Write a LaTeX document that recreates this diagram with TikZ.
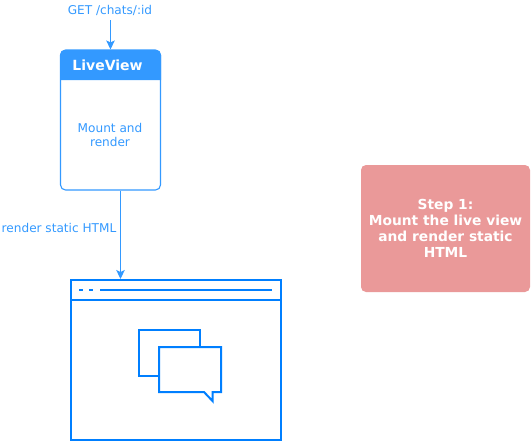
\documentclass[tikz,border=0pt]{standalone}
\usepackage{fontspec}
\setmainfont{DejaVu Sans}
\usetikzlibrary{arrows.meta}
\definecolor{lvblue}{HTML}{3399FF}
\definecolor{brblue}{HTML}{007FFF}
\definecolor{stepred}{HTML}{EA9999}
\tikzset{
  x=1pt,y=-1pt,
  lbl/.style={text=lvblue,font=\fontsize{12.1}{14.4}\selectfont,align=center,inner sep=0pt},
  panel/.style={draw=lvblue,line width=1.1pt,rounded corners=5pt,fill=white,minimum width=100pt,minimum height=140pt,inner sep=0pt},
  flow/.style={draw=lvblue,line width=1.1pt,-{Stealth[length=9pt,width=8.5pt,inset=2pt]}},
  wire/.style={draw=brblue,line width=2pt},
  stepbox/.style={fill=stepred,rounded corners=5pt,minimum width=169pt,minimum height=127pt,text=white,font=\fontsize{13.8}{16}\selectfont\bfseries,align=center,inner sep=0pt}
}
\begin{document}
\begin{tikzpicture}
\useasboundingbox (0,0) rectangle (531,442);
% LiveView panel
\node[panel] (live) at (110.5,120) {};
\fill[lvblue,rounded corners=5pt] (60,80) -- (60,50) -- (161,50) -- (161,72) [sharp corners] -- (161,80) -- cycle;
\fill[lvblue] (60,72) rectangle (161,80);
\node[font=\fontsize{14}{16}\selectfont\bfseries,text=white,inner sep=0pt] (title) at (107.5,65) {LiveView};
\node[lbl] (mount) at (110,135) {Mount and\\render};
% Labels and connectors
\node[lbl] (get) at (110,10.5) {GET /chats/:id};
\coordinate (gets) at (110.5,20);
\node[lbl] (static) at (59,227.5) {render static HTML};
% Browser window
\node[wire,minimum width=210pt,minimum height=160pt,inner sep=0pt] (browser) at (175.5,360) {};
\draw[wire] (70.5,300) -- (280.5,300);
\draw[wire] (79,290) -- (83,290) (89,290) -- (93,290) (100,290) -- (272,290);
% Chat bubbles
\draw[wire] (159,376) -- (138.5,376) -- (138.5,330) -- (200,330) -- (200,347);
\draw[wire,line join=miter] (159,347) -- (221,347) -- (221,392) -- (212.5,392) -- (212.5,401) -- (204,392) -- (159,392) -- cycle;
% Step note
\node[stepbox] (note) at (445.5,228.5) {Step 1:\\Mount the live view\\and render static\\HTML};
% Connectors
\draw[flow] (gets) -- (live.north);
\draw[flow] ([xshift=10pt]live.south) -- ([xshift=-55pt]browser.north);
\end{tikzpicture}
\end{document}
